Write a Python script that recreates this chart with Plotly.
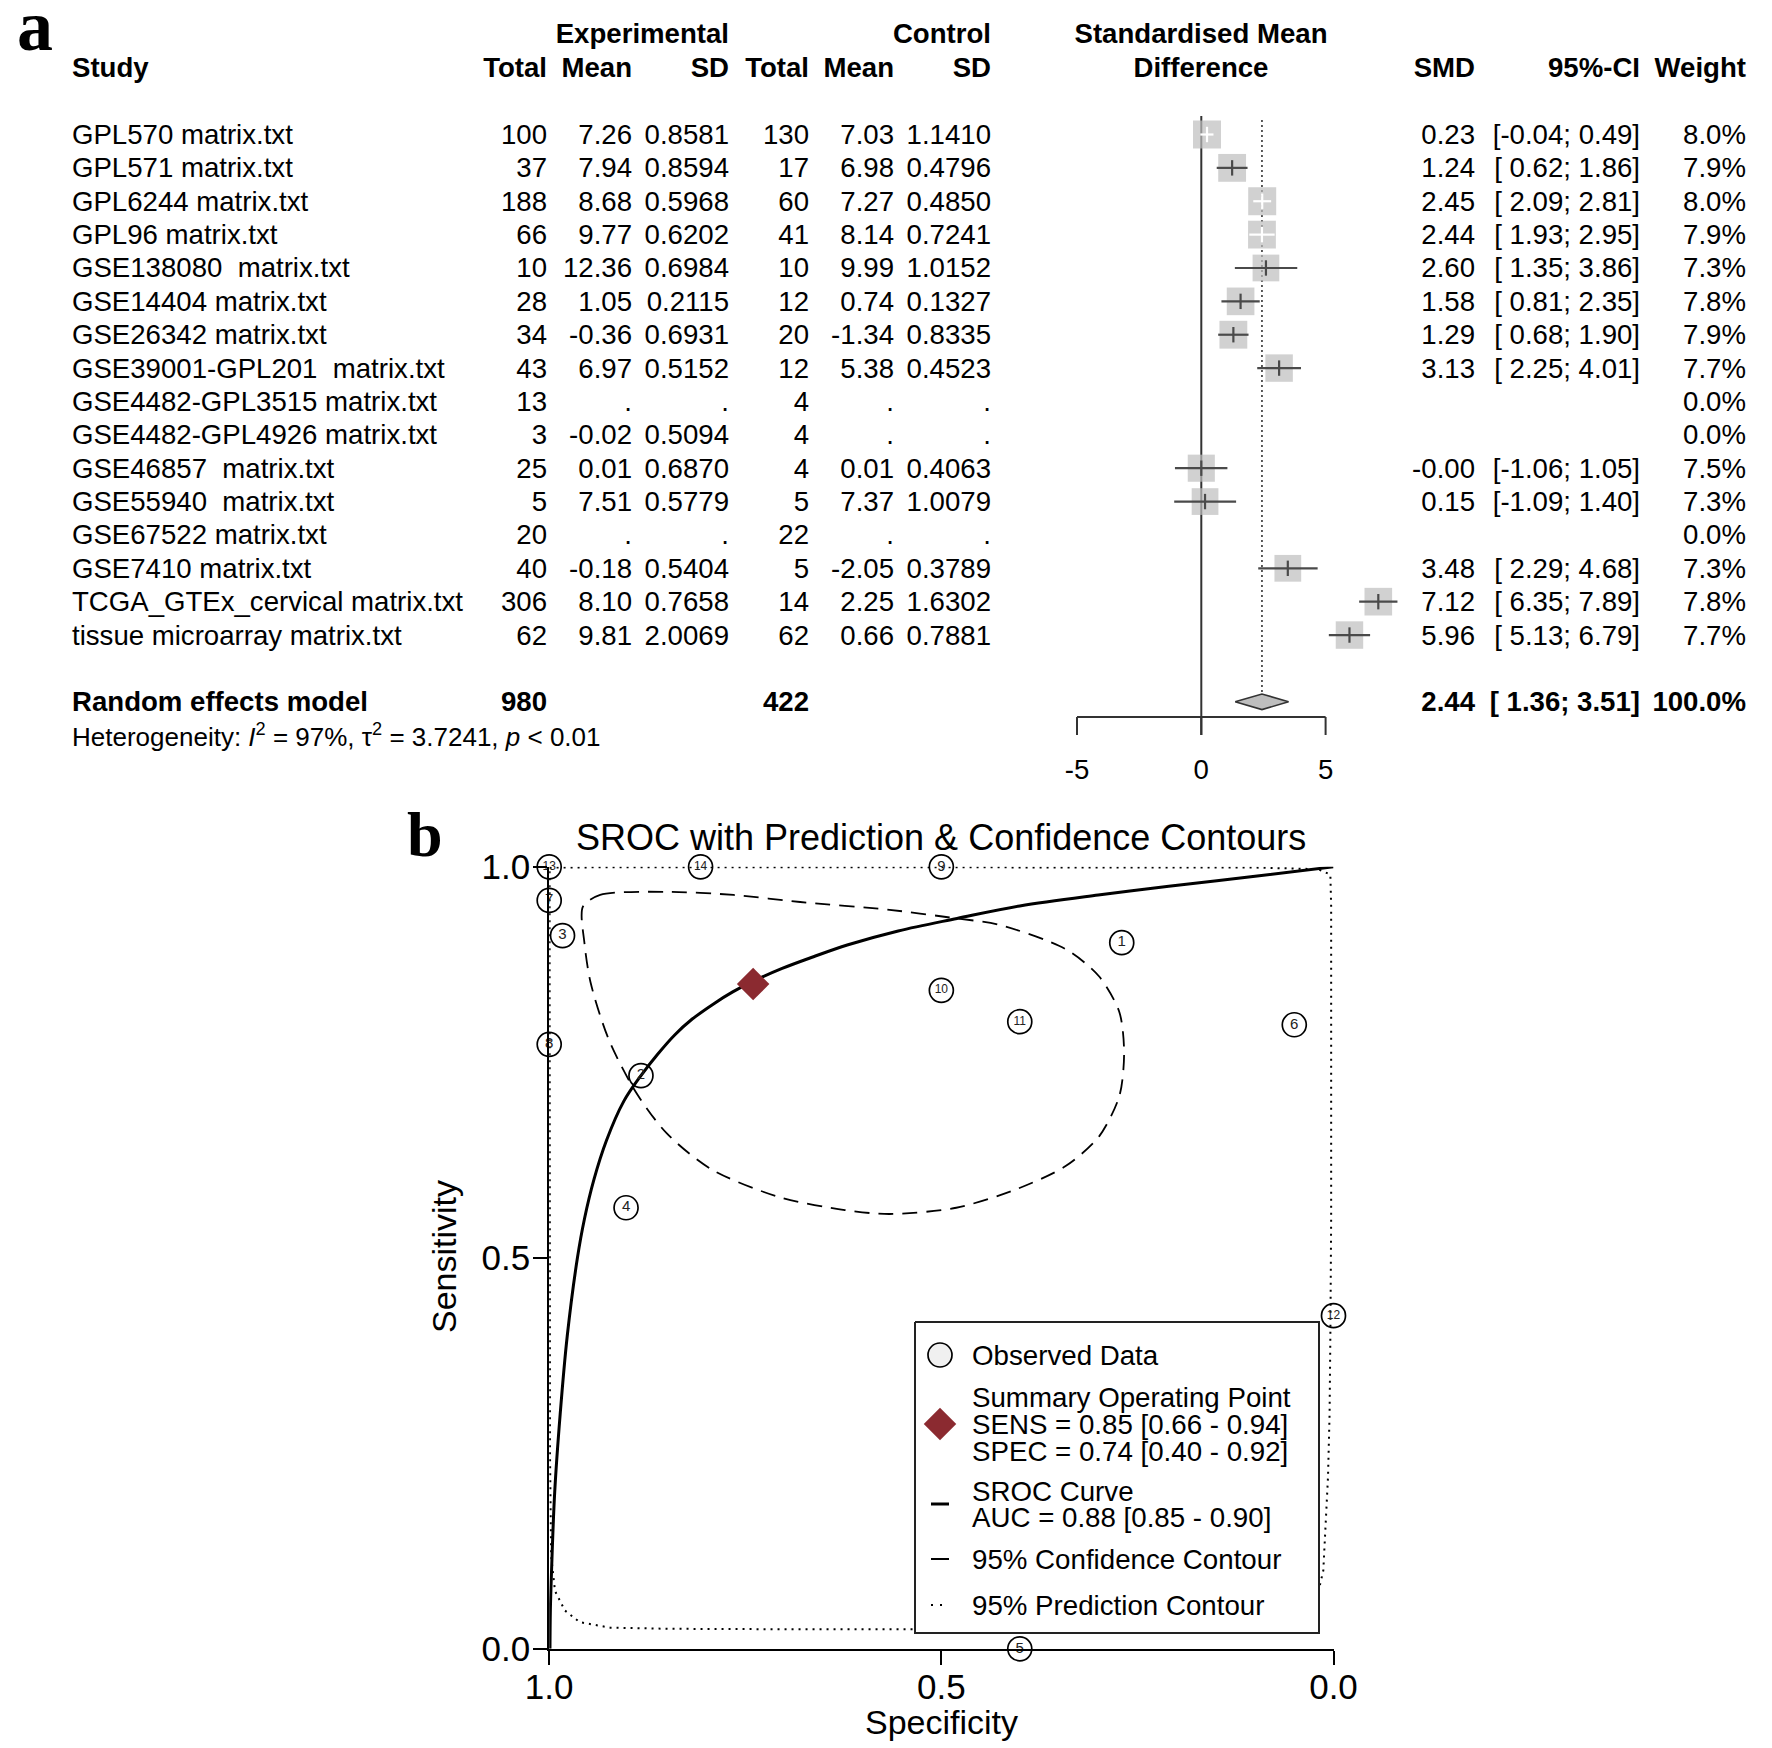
import plotly.graph_objects as go

W, H = 1772, 1748
SANS = "Liberation Sans, Arial, Helvetica, sans-serif"
SERIF = "Liberation Serif, Times New Roman, serif"

# ================= Panel a : forest plot data =================
studies = [
    "GPL570 matrix.txt", "GPL571 matrix.txt", "GPL6244 matrix.txt", "GPL96 matrix.txt",
    "GSE138080\u00a0 matrix.txt", "GSE14404 matrix.txt", "GSE26342 matrix.txt",
    "GSE39001-GPL201\u00a0 matrix.txt", "GSE4482-GPL3515 matrix.txt", "GSE4482-GPL4926 matrix.txt",
    "GSE46857\u00a0 matrix.txt", "GSE55940\u00a0 matrix.txt", "GSE67522 matrix.txt", "GSE7410 matrix.txt",
    "TCGA_GTEx_cervical matrix.txt", "tissue microarray matrix.txt",
]
exp_total = [100, 37, 188, 66, 10, 28, 34, 43, 13, 3, 25, 5, 20, 40, 306, 62]
exp_mean = [7.26, 7.94, 8.68, 9.77, 12.36, 1.05, -0.36, 6.97, None, -0.02, 0.01, 7.51, None, -0.18, 8.10, 9.81]
exp_sd = [0.8581, 0.8594, 0.5968, 0.6202, 0.6984, 0.2115, 0.6931, 0.5152, None, 0.5094, 0.6870, 0.5779,
          None, 0.5404, 0.7658, 2.0069]
ctrl_total = [130, 17, 60, 41, 10, 12, 20, 12, 4, 4, 4, 5, 22, 5, 14, 62]
ctrl_mean = [7.03, 6.98, 7.27, 8.14, 9.99, 0.74, -1.34, 5.38, None, None, 0.01, 7.37, None, -2.05, 2.25, 0.66]
ctrl_sd = [1.1410, 0.4796, 0.4850, 0.7241, 1.0152, 0.1327, 0.8335, 0.4523, None, None, 0.4063, 1.0079,
           None, 0.3789, 1.6302, 0.7881]
smd = [0.23, 1.24, 2.45, 2.44, 2.60, 1.58, 1.29, 3.13, None, None, -0.00, 0.15, None, 3.48, 7.12, 5.96]
ci_lo = [-0.04, 0.62, 2.09, 1.93, 1.35, 0.81, 0.68, 2.25, None, None, -1.06, -1.09, None, 2.29, 6.35, 5.13]
ci_hi = [0.49, 1.86, 2.81, 2.95, 3.86, 2.35, 1.90, 4.01, None, None, 1.05, 1.40, None, 4.68, 7.89, 6.79]
weight = [8.0, 7.9, 8.0, 7.9, 7.3, 7.8, 7.9, 7.7, 0.0, 0.0, 7.5, 7.3, 0.0, 7.3, 7.8, 7.7]

re_total_exp = 980
re_total_ctrl = 422
re_smd, re_lo, re_hi, re_weight = 2.44, 1.36, 3.51, 100.0
het_i2, het_tau2, het_p = 97, 3.7241, "0.01"
forest_ticks = [-5, 0, 5]

# ================= Panel b : SROC data =================
obs_id = list(range(1, 15))
obs_spec = [0.27, 0.883, 0.983, 0.902, 0.40, 0.05, 1.0, 1.0, 0.50, 0.50, 0.40, 0.0, 1.0, 0.807]
obs_sens = [0.903, 0.733, 0.912, 0.564, 0.0, 0.798, 0.957, 0.773, 1.0, 0.842, 0.802, 0.426, 1.0, 1.0]
summ_sens = (0.85, 0.66, 0.94)
summ_spec = (0.74, 0.40, 0.92)
auc = (0.88, 0.85, 0.90)

sroc_sens = [0.0, 0.05, 0.10, 0.20, 0.30, 0.40, 0.50, 0.55, 0.60, 0.65, 0.70, 0.733, 0.76, 0.785, 0.805,
             0.825, 0.84, 0.854, 0.87, 0.885, 0.90, 0.918, 0.934, 0.95, 0.964, 0.975, 0.988, 1.0]
sroc_spec = [0.999, 0.9985, 0.997, 0.993, 0.986, 0.977, 0.964, 0.955, 0.943, 0.927, 0.905, 0.883, 0.862,
             0.840, 0.818, 0.790, 0.766, 0.739, 0.703, 0.663, 0.620, 0.555, 0.480, 0.400, 0.300, 0.210,
             0.100, 0.0]

conf_spec = [0.957, 0.935, 0.850, 0.765, 0.680, 0.566, 0.481, 0.427, 0.342, 0.299, 0.273, 0.267, 0.273,
             0.299, 0.342, 0.406, 0.481, 0.566, 0.623, 0.708, 0.793, 0.850, 0.889, 0.924, 0.947, 0.955, 0.957]
conf_sens = [0.949, 0.964, 0.968, 0.964, 0.955, 0.945, 0.934, 0.926, 0.895, 0.860, 0.814, 0.762, 0.707,
             0.655, 0.617, 0.587, 0.564, 0.556, 0.561, 0.578, 0.613, 0.659, 0.711, 0.779, 0.851, 0.902, 0.949]

pred_spec = [0.9995, 0.9, 0.7, 0.5, 0.3, 0.1, 0.02, 0.004, 0.003, 0.003, 0.003, 0.003, 0.004, 0.005,
             0.007, 0.010, 0.013, 0.02, 0.04, 0.10, 0.20, 0.35, 0.556, 0.70, 0.8485, 0.922, 0.961, 0.980,
             0.9926, 0.9975, 0.999, 0.9994, 0.9995, 0.9995, 0.9995]
pred_sens = [0.999, 0.9995, 0.9995, 0.9995, 0.9995, 0.999, 0.997, 0.99, 0.95, 0.85, 0.70, 0.55, 0.40, 0.30,
             0.22, 0.16, 0.10, 0.07, 0.045, 0.032, 0.027, 0.025, 0.0246, 0.025, 0.0256, 0.027, 0.034, 0.049,
             0.074, 0.118, 0.25, 0.45, 0.65, 0.85, 0.999]
sroc_ticks = [1.0, 0.5, 0.0]

# ================= layout geometry (pixels) =================
ROW0, ROWH = 134.5, 33.37          # first study row centre, row pitch
X0, XU = 1201.3, 24.86             # SMD 0 position, px per SMD unit
X_SP1, X_SP0 = 549.2, 1333.5       # specificity 1.0 / 0.0
Y_SE1, Y_SE0 = 866.8, 1648.8       # sensitivity 1.0 / 0.0
TXT_DY = 2.6                       # baseline correction for text (px)
FS = 27.6
LFS = 27.7
SQ = 28.0
GRAY = "#BEBEBE"
DARK = "#4a4a4a"
RED = "#8B2A30"


def rpx(py):
    return (py - ROW0) / ROWH


def spec_px(px):
    return (X_SP0 - px) / (X_SP0 - X_SP1)


def sens_px(py):
    return (Y_SE0 - py) / (Y_SE0 - Y_SE1)


def fmt(v, d):
    return "." if v is None else f"{v:.{d}f}"


fig = go.Figure()

POS = {"left": "middle right", "right": "middle left", "center": "middle center"}


def tcol(xs, ys, texts, align="right", bold=False, size=FS, xa="x", ya="y2", color="black", family=SANS):
    if not isinstance(xs, list):
        xs = [xs] * len(ys)
    keep = [k for k, t in enumerate(texts) if t]
    xs = [xs[k] for k in keep]
    ys = [ys[k] for k in keep]
    texts = [texts[k] for k in keep]
    if ya == "y2":
        ys = [y + TXT_DY / ROWH for y in ys]
    if bold:
        texts = [f"<b>{t}</b>" for t in texts]
    fig.add_trace(go.Scatter(x=xs, y=ys, text=texts, mode="text", textposition=POS[align],
                             textfont=dict(family=family, size=size, color=color),
                             xaxis=xa, yaxis=ya, cliponaxis=False, hoverinfo="skip", showlegend=False))


rows = list(range(len(studies)))

# ---------- forest: reference lines ----------
fig.add_trace(go.Scatter(x=[0, 0], y=[rpx(116), rpx(735)], mode="lines",
                         line=dict(color="#333333", width=2), xaxis="x2", yaxis="y2", hoverinfo="skip"))
DIA_H = 7.8 / ROWH
RE_ROW = 17
fig.add_trace(go.Scatter(x=[re_smd, re_smd], y=[rpx(120), RE_ROW - DIA_H], mode="lines",
                         line=dict(color="#333333", width=1.6, dash="2px,3px"),
                         xaxis="x2", yaxis="y2", hoverinfo="skip"))

# forest axis
ax_y, tk_y = rpx(717), rpx(735)
fig.add_trace(go.Scatter(x=[min(forest_ticks), max(forest_ticks)], y=[ax_y, ax_y], mode="lines",
                         line=dict(color="#333333", width=2), xaxis="x2", yaxis="y2", hoverinfo="skip"))
tx, ty = [], []
for t in forest_ticks:
    tx += [t, t, None]
    ty += [ax_y, tk_y, None]
fig.add_trace(go.Scatter(x=tx, y=ty, mode="lines", line=dict(color="#333333", width=2),
                         xaxis="x2", yaxis="y2", hoverinfo="skip"))
tcol([float(t) for t in forest_ticks], [rpx(770)] * len(forest_ticks), [str(t) for t in forest_ticks],
     align="center", xa="x2")

# squares
idx = [i for i, v in enumerate(smd) if v is not None]
sizes = [SQ * (weight[i] / 8.0) ** 0.5 for i in idx]
fig.add_trace(go.Scatter(x=[smd[i] for i in idx], y=idx, mode="markers",
                         marker=dict(symbol="square", size=sizes, color=GRAY, line=dict(width=0)),
                         xaxis="x2", yaxis="y2", hoverinfo="skip", cliponaxis=False))

# CI lines + point ticks
for colr, inside in (("white", True), (DARK, False)):
    sel = [i for k, i in enumerate(idx) if ((ci_hi[i] - ci_lo[i]) * XU < sizes[k]) == inside]
    lx, ly = [], []
    for i in sel:
        lx += [ci_lo[i], ci_hi[i], None]
        ly += [i, i, None]
    fig.add_trace(go.Scatter(x=lx, y=ly, mode="lines", line=dict(color=colr, width=2.2),
                             xaxis="x2", yaxis="y2", hoverinfo="skip"))
    fig.add_trace(go.Scatter(x=[smd[i] for i in sel], y=sel, mode="markers",
                             marker=dict(symbol="line-ns", size=11, line=dict(width=2.2, color=colr)),
                             xaxis="x2", yaxis="y2", hoverinfo="skip", cliponaxis=False))

# diamond
fig.add_trace(go.Scatter(x=[re_lo, re_smd, re_hi, re_smd, re_lo],
                         y=[RE_ROW, RE_ROW - DIA_H, RE_ROW, RE_ROW + DIA_H, RE_ROW],
                         mode="lines", fill="toself", fillcolor=GRAY,
                         line=dict(color="#333333", width=1.6), xaxis="x2", yaxis="y2", hoverinfo="skip"))

# ---------- forest: table text ----------
H1, H2 = rpx(33.9), rpx(67.8)
tcol(729, [H1], ["Experimental"], "right", bold=True)
tcol(991, [H1], ["Control"], "right", bold=True)
tcol(1201, [H1], ["Standardised Mean"], "center", bold=True)
headers = [("Study", 72, "left"), ("Total", 547, "right"), ("Mean", 632, "right"), ("SD", 729, "right"),
           ("Total", 809, "right"), ("Mean", 894, "right"), ("SD", 991, "right"),
           ("Difference", 1201, "center"), ("SMD", 1475, "right"), ("95%-CI", 1640, "right"),
           ("Weight", 1746, "right")]
for txt, x, al in headers:
    tcol(x, [H2], [txt], al, bold=True)

tcol(72, rows, studies, "left")
tcol(547, rows, [str(v) for v in exp_total])
tcol(632, rows, [fmt(v, 2) for v in exp_mean])
tcol(729, rows, [fmt(v, 4) for v in exp_sd])
tcol(809, rows, [str(v) for v in ctrl_total])
tcol(894, rows, [fmt(v, 2) for v in ctrl_mean])
tcol(991, rows, [fmt(v, 4) for v in ctrl_sd])
tcol(1475, rows, ["" if v is None else f"{v:.2f}" for v in smd])
tcol(1640, rows, ["" if lo is None else f"[{lo:5.2f}; {hi:4.2f}]" for lo, hi in zip(ci_lo, ci_hi)])
tcol(1746, rows, [f"{w:.1f}%" for w in weight])

tcol(72, [RE_ROW], ["Random effects model"], "left", bold=True)
tcol(547, [RE_ROW], [str(re_total_exp)], bold=True)
tcol(809, [RE_ROW], [str(re_total_ctrl)], bold=True)
tcol(1475, [RE_ROW], [f"{re_smd:.2f}"], bold=True)
tcol(1640, [RE_ROW], [f"[{re_lo:5.2f}; {re_hi:4.2f}]"], bold=True)
tcol(1746, [RE_ROW], [f"{re_weight:.1f}%"], bold=True)
tcol(72, [rpx(737)], [f"Heterogeneity: <i>I</i><sup>2</sup> = {het_i2}%, \u03c4<sup>2</sup> = {het_tau2:.4f}, "
                      f"<i>p</i> &lt; {het_p}"], "left", size=26)

# ================= SROC panel =================
fig.add_trace(go.Scatter(x=pred_spec, y=pred_sens, mode="lines",
                         line=dict(color="black", width=2, dash="2px,5px"),
                         xaxis="x3", yaxis="y3", hoverinfo="skip"))
fig.add_trace(go.Scatter(x=conf_spec, y=conf_sens, mode="lines",
                         line=dict(color="black", width=1.8, dash="15px,9px", shape="spline", smoothing=0.8),
                         xaxis="x3", yaxis="y3", hoverinfo="skip"))
fig.add_trace(go.Scatter(x=sroc_spec, y=sroc_sens, mode="lines",
                         line=dict(color="black", width=3, shape="spline", smoothing=1.0),
                         xaxis="x3", yaxis="y3", hoverinfo="skip"))
fig.add_trace(go.Scatter(x=obs_spec, y=obs_sens, mode="markers+text", text=[str(i) for i in obs_id],
                         textposition="middle center",
                         textfont=dict(family=SANS, size=[15 if i < 10 else 12 for i in obs_id], color="#222"),
                         marker=dict(symbol="circle-open", size=24, color="black", line=dict(width=1.7)),
                         xaxis="x3", yaxis="y3", cliponaxis=False, hoverinfo="skip"))
fig.add_trace(go.Scatter(x=[summ_spec[0]], y=[summ_sens[0]], mode="markers",
                         marker=dict(symbol="diamond", size=25, color=RED, line=dict(width=0)),
                         xaxis="x3", yaxis="y3", cliponaxis=False, hoverinfo="skip"))

# legend box
L, T, R, B = 915, 1322, 1319, 1633
fig.add_trace(go.Scatter(x=[spec_px(p) for p in (L, R, R, L, L)], y=[sens_px(p) for p in (T, T, B, B, T)],
                         mode="lines", fill="toself", fillcolor="white",
                         line=dict(color="#222222", width=2), xaxis="x3", yaxis="y3", hoverinfo="skip"))
SX = 940
fig.add_trace(go.Scatter(x=[spec_px(SX)], y=[sens_px(1355)], mode="markers",
                         marker=dict(symbol="circle", size=24, color="#f0f0f0",
                                     line=dict(width=1.7, color="black")),
                         xaxis="x3", yaxis="y3", hoverinfo="skip"))
fig.add_trace(go.Scatter(x=[spec_px(SX)], y=[sens_px(1424)], mode="markers",
                         marker=dict(symbol="diamond", size=25, color=RED, line=dict(width=0)),
                         xaxis="x3", yaxis="y3", hoverinfo="skip"))
fig.add_trace(go.Scatter(x=[spec_px(931), spec_px(949)], y=[sens_px(1504)] * 2, mode="lines",
                         line=dict(color="black", width=3), xaxis="x3", yaxis="y3", hoverinfo="skip"))
fig.add_trace(go.Scatter(x=[spec_px(931), spec_px(949)], y=[sens_px(1559)] * 2, mode="lines",
                         line=dict(color="black", width=2), xaxis="x3", yaxis="y3", hoverinfo="skip"))
fig.add_trace(go.Scatter(x=[spec_px(931), spec_px(944)], y=[sens_px(1605)] * 2, mode="lines",
                         line=dict(color="black", width=2, dash="2px,7px"), xaxis="x3", yaxis="y3",
                         hoverinfo="skip"))
legend_lines = ["Observed Data", "Summary Operating Point",
                f"SENS = {summ_sens[0]:.2f} [{summ_sens[1]:.2f} - {summ_sens[2]:.2f}]",
                f"SPEC = {summ_spec[0]:.2f} [{summ_spec[1]:.2f} - {summ_spec[2]:.2f}]",
                "SROC Curve", f"AUC = {auc[0]:.2f} [{auc[1]:.2f} - {auc[2]:.2f}]",
                "95% Confidence Contour", "95% Prediction Contour"]
legend_y = [1355, 1397, 1424, 1451, 1491, 1517, 1559, 1605]
tcol([spec_px(972)] * len(legend_y), [sens_px(p + 3.2) for p in legend_y], legend_lines, "left",
     size=LFS, xa="x3", ya="y3")

# ================= axes =================
hidden = dict(visible=False, showgrid=False, zeroline=False, fixedrange=True, automargin=False)
tickstyle = dict(showline=True, linecolor="black", linewidth=2, ticks="outside", ticklen=14, tickwidth=2,
                 tickcolor="black", showgrid=False, zeroline=False, fixedrange=True, automargin=False,
                 tickvals=sroc_ticks, ticktext=[f"{t:.1f}" for t in sroc_ticks],
                 tickfont=dict(family=SANS, size=35, color="black"))
fig.update_layout(
    width=W, height=H, margin=dict(l=0, r=0, t=0, b=0, pad=0, autoexpand=False),
    paper_bgcolor="white", plot_bgcolor="rgba(0,0,0,0)", showlegend=False,
    xaxis=dict(domain=[0, 1], range=[0, W], anchor="y2", **hidden),
    yaxis=dict(domain=[0, 1], range=[H, 0], anchor="x", **hidden),
    xaxis2=dict(domain=[0, 1], range=[-X0 / XU, (W - X0) / XU], anchor="y2", **hidden),
    yaxis2=dict(domain=[0, 1], range=[(H - ROW0) / ROWH, -ROW0 / ROWH], anchor="x2", **hidden),
    xaxis3=dict(domain=[X_SP1 / W, X_SP0 / W], range=[1, 0], anchor="y3", ticklabelstandoff=-8, **tickstyle),
    yaxis3=dict(domain=[1 - Y_SE0 / H, 1 - Y_SE1 / H], range=[0, 1], anchor="x3", ticklabelstandoff=-4,
                **tickstyle),
)


def ann(x, y, text, size, family=SANS, angle=0):
    fig.add_annotation(x=x / W, y=1 - y / H, xref="paper", yref="paper", text=text, showarrow=False,
                       xanchor="center", yanchor="middle", textangle=angle,
                       font=dict(family=family, size=size, color="black"))


ann(35, 26, "<b>a</b>", 72, SERIF)
ann(425, 834, "<b>b</b>", 64, SERIF)
ann(941, 838, "SROC with Prediction &amp; Confidence Contours", 36)
ann(444, 1257, "Sensitivity", 34, angle=-90)
ann(941, 1722, "Specificity", 34)

fig.write_html("out.html", config={"displayModeBar": False},
               post_script="document.body.style.margin='0';document.body.style.overflow='hidden';")
